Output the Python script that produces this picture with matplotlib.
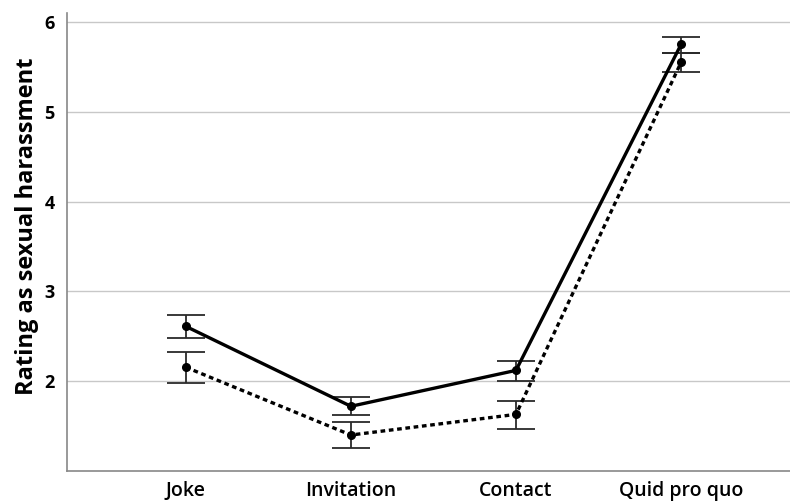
import matplotlib.pyplot as plt

categories = ["Joke", "Invitation", "Contact", "Quid pro quo"]

# solid series
solid_mean = [2.61, 1.72, 2.12, 5.75]
solid_low = [2.48, 1.62, 2.00, 5.66]
solid_high = [2.74, 1.82, 2.23, 5.83]

# dotted series
dotted_mean = [2.155, 1.40, 1.63, 5.55]
dotted_low = [1.98, 1.26, 1.47, 5.44]
dotted_high = [2.33, 1.545, 1.78, 5.66]

yticks = [2, 3, 4, 5, 6]


def main():
    plt.rcParams["font.family"] = ["Open Sans", "DejaVu Sans"]
    fig = plt.figure(figsize=(7.9, 5.01), dpi=100)
    ax = fig.add_axes([0.0848, 0.060, 0.9152, 0.914])

    x = list(range(len(categories)))

    for mean, low, high, ls in [
        (dotted_mean, dotted_low, dotted_high, (0, (1.4, 1.1))),
        (solid_mean, solid_low, solid_high, "-"),
    ]:
        err = [[m - l for m, l in zip(mean, low)], [h - m for m, h in zip(mean, high)]]
        ax.errorbar(x, mean, yerr=err, fmt="none", ecolor="#2a2a2a",
                    elinewidth=1.3, capsize=14, capthick=1.3, zorder=3)
        ax.plot(x, mean, color="black", lw=2.4, linestyle=ls,
                marker="o", markersize=5.5, zorder=4)

    ax.set_xlim(-0.72, 3.66)
    ax.set_ylim(1.0, 6.1)
    ax.set_yticks(yticks)
    ax.set_xticks(x)
    ax.set_xticklabels(categories, fontsize=14, fontweight="semibold")
    ax.set_yticklabels([str(t) for t in yticks], fontsize=13, fontweight="bold")
    ax.tick_params(axis="y", length=0, pad=9)
    ax.tick_params(axis="x", length=0, pad=7)
    ax.yaxis.grid(True, color="#c8c8c8", lw=1)
    ax.set_axisbelow(True)
    ax.set_ylabel("Rating as sexual harassment", fontsize=17, fontweight="bold",
                  va="center")
    ax.yaxis.set_label_coords(-0.055, 0.535)

    for side in ["top", "right"]:
        ax.spines[side].set_visible(False)
    for side in ["left", "bottom"]:
        ax.spines[side].set_color("#888888")
        ax.spines[side].set_linewidth(1.2)

    fig.savefig("out.png", dpi=100)
    plt.close(fig)


if __name__ == "__main__":
    main()
